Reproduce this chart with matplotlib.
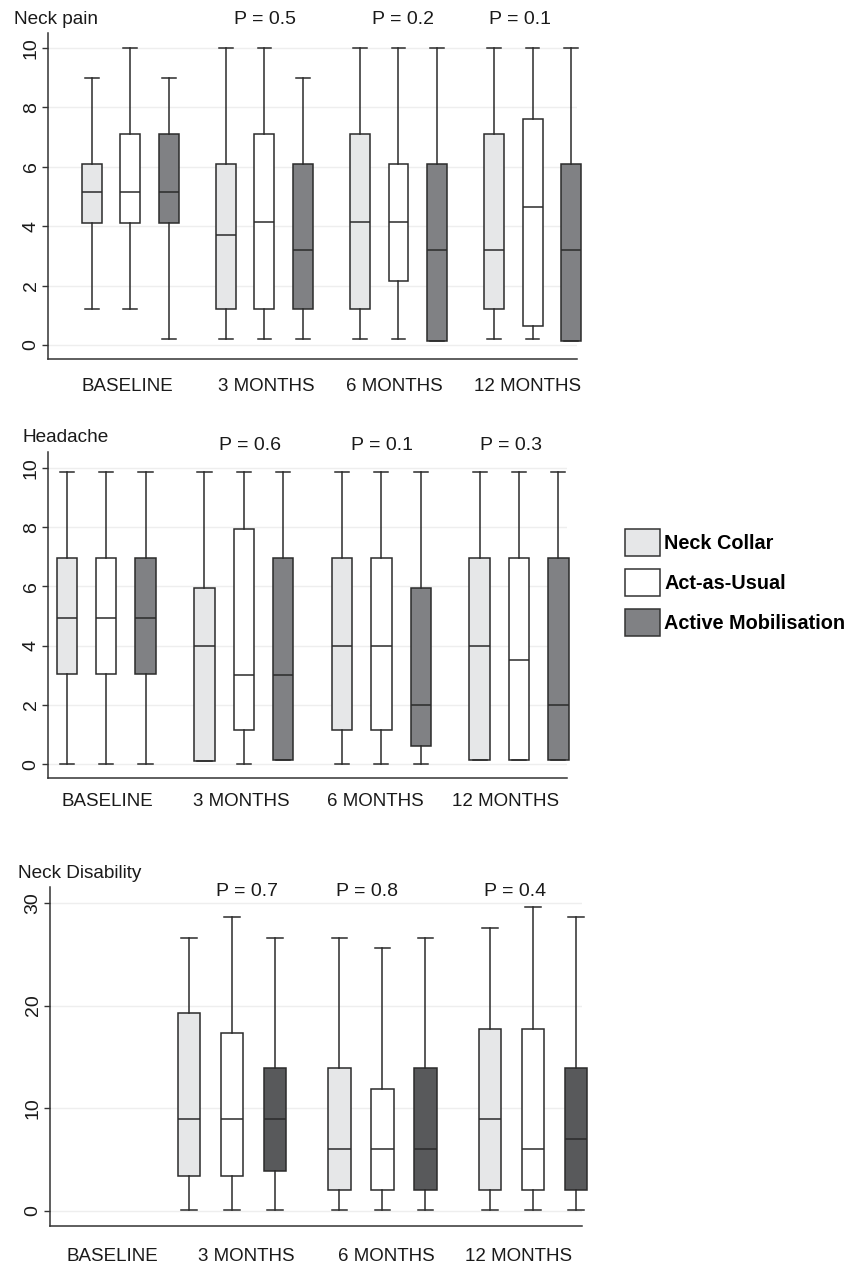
import matplotlib
matplotlib.use("Agg")
import matplotlib.pyplot as plt
from matplotlib.patches import Patch

plt.rcParams['font.family'] = ['Liberation Sans', 'DejaVu Sans']

# -------------------------------
# Data: [whislo, q1, median, q3, whishi] per time point
# -------------------------------
timepoints = ["BASELINE", "3 MONTHS", "6 MONTHS", "12 MONTHS"]
arms = ["Neck Collar", "Act-as-Usual", "Active Mobilisation"]

pain_collar = [[1.2, 4.1, 5.15, 6.1, 9.0], [0.2, 1.2, 3.7, 6.1, 10.0],
               [0.2, 1.2, 4.15, 7.1, 10.0], [0.2, 1.2, 3.2, 7.1, 10.0]]
pain_usual = [[1.2, 4.1, 5.15, 7.1, 10.0], [0.2, 1.2, 4.15, 7.1, 10.0],
              [0.2, 2.15, 4.15, 6.1, 10.0], [0.2, 0.65, 4.65, 7.6, 10.0]]
pain_active = [[0.2, 4.1, 5.15, 7.1, 9.0], [0.2, 1.2, 3.2, 6.1, 9.0],
               [0.15, 0.15, 3.2, 6.1, 10.0], [0.15, 0.15, 3.2, 6.1, 10.0]]
pain_p = ["P = 0.5", "P = 0.2", "P = 0.1"]

head_collar = [[0.0, 3.05, 4.95, 6.95, 9.85], [0.1, 0.1, 4.0, 5.95, 9.85],
               [0.0, 1.15, 4.0, 6.95, 9.85], [0.13, 0.13, 4.0, 6.95, 9.85]]
head_usual = [[0.0, 3.05, 4.95, 6.95, 9.85], [0.0, 1.15, 3.0, 7.95, 9.85],
              [0.0, 1.15, 4.0, 6.95, 9.85], [0.13, 0.13, 3.5, 6.95, 9.85]]
head_active = [[0.0, 3.05, 4.95, 6.95, 9.85], [0.15, 0.15, 3.0, 6.95, 9.85],
               [0.0, 0.6, 2.0, 5.95, 9.85], [0.13, 0.13, 2.0, 6.95, 9.85]]
head_p = ["P = 0.6", "P = 0.1", "P = 0.3"]

# no baseline values for disability
dis_collar = [None, [0.1, 3.4, 9.0, 19.3, 26.6],
              [0.1, 2.0, 6.0, 13.9, 26.6], [0.1, 2.0, 9.0, 17.7, 27.6]]
dis_usual = [None, [0.1, 3.4, 9.0, 17.3, 28.6],
             [0.1, 2.0, 6.0, 11.9, 25.6], [0.1, 2.0, 6.0, 17.7, 29.6]]
dis_active = [None, [0.1, 3.9, 9.0, 13.9, 26.6],
              [0.1, 2.0, 6.0, 13.9, 26.6], [0.1, 2.0, 7.0, 13.9, 28.6]]
dis_p = ["P = 0.7", "P = 0.8", "P = 0.4"]

# -------------------------------
# Layout (pixels on the 861x1264 canvas)
# -------------------------------
W, H = 861, 1264
edge = "#2b2b2b"
fills_light = ["#e6e7e8", "#ffffff", "#808184"]
fills_dark = ["#e6e7e8", "#ffffff", "#58595b"]

panels = [
    dict(title="Neck pain", series=[pain_collar, pain_usual, pain_active], pvals=pain_p,
         box=(48, 33, 577, 359), xlim=(-1.15, 12.66), ylim=(-0.47, 10.5), yticks=[0, 2, 4, 6, 8, 10],
         labx=[0.91, 4.54, 7.89, 11.38], lpad=14, fills=fills_light,
         title_xy=(14, 19), p_xy=[(265, 19), (403, 19), (520, 19)]),
    dict(title="Headache", series=[head_collar, head_usual, head_active], pvals=head_p,
         box=(48, 452, 567, 778), xlim=(-0.48, 12.72), ylim=(-0.47, 10.54), yticks=[0, 2, 4, 6, 8, 10],
         labx=[1.02, 4.43, 7.85, 11.15], lpad=11, fills=fills_light,
         title_xy=(23, 437), p_xy=[(250, 446), (382, 446), (511, 446)]),
    dict(title="Neck Disability", series=[dis_collar, dis_usual, dis_active], pvals=dis_p,
         box=(50, 887, 582, 1226), xlim=(0.27, 12.64), ylim=(-1.46, 31.55), yticks=[0, 10, 20, 30],
         labx=[1.71, 4.83, 8.08, 11.17], lpad=16, fills=fills_dark,
         title_xy=(18, 873), p_xy=[(247, 892), (367, 892), (515, 892)]),
]

fig = plt.figure(figsize=(W / 100, H / 100), dpi=100)

for pan in panels:
    l, t, r, b = pan["box"]
    ax = fig.add_axes([l / W, 1 - b / H, (r - l) / W, (b - t) / H])

    for i, arm_vals in enumerate(pan["series"]):
        stats, pos = [], []
        for g, v in enumerate(arm_vals):
            if v is None:
                continue
            stats.append(dict(whislo=v[0], q1=v[1], med=v[2], q3=v[3], whishi=v[4]))
            pos.append(g * 3.5 + i)
        parts = ax.bxp(stats, positions=pos, widths=0.52, capwidths=0.36, showfliers=False,
                       patch_artist=True, manage_ticks=False,
                       boxprops=dict(facecolor=pan["fills"][i], edgecolor=edge, linewidth=1.1),
                       medianprops=dict(color=edge, linewidth=1.1),
                       whiskerprops=dict(color=edge, linewidth=1.1),
                       capprops=dict(color=edge, linewidth=1.1))
        # boxes at the far right poke past the axis end in the original
        for key in parts:
            for art in parts[key]:
                art.set_clip_on(False)

    ax.set_xlim(*pan["xlim"])
    ax.set_ylim(*pan["ylim"])
    ax.set_yticks(pan["yticks"])
    ax.grid(axis='y', color="#eeeeee", linewidth=1.0)
    ax.set_axisbelow(True)
    for s in ["top", "right"]:
        ax.spines[s].set_visible(False)
    for s in ["left", "bottom"]:
        ax.spines[s].set_color("#333333")
        ax.spines[s].set_linewidth(1.1)
    ax.tick_params(axis='y', length=4, width=1.0, color="#333333", labelsize=14,
                   labelrotation=90, pad=2, labelcolor="#1a1a1a")
    for lab in ax.get_yticklabels():
        lab.set_va('center')
    ax.set_xticks(pan["labx"])
    ax.set_xticklabels(timepoints, fontsize=13.5, color="#1a1a1a")
    ax.tick_params(axis='x', length=0, pad=pan["lpad"])

    fig.text(pan["title_xy"][0] / W, 1 - pan["title_xy"][1] / H, pan["title"],
             fontsize=13.7, va='center', ha='left', color="#1a1a1a")
    for (px, py), txt in zip(pan["p_xy"], pan["pvals"]):
        fig.text(px / W, 1 - py / H, txt, fontsize=14, va='center', ha='center', color="#1a1a1a")

handles = [Patch(facecolor=c, edgecolor="#333333", linewidth=1.1) for c in fills_light]
fig.legend(handles, arms, loc='upper left', bbox_to_anchor=(625 / W, 1 - 529 / H),
           frameon=False, borderpad=0, borderaxespad=0, handlelength=1.75, handleheight=1.75,
           labelspacing=0.63, handletextpad=0.22,
           prop=dict(family=['Liberation Sans', 'DejaVu Sans'], weight='bold', size=14.3))

fig.savefig("out.png", dpi=100)
